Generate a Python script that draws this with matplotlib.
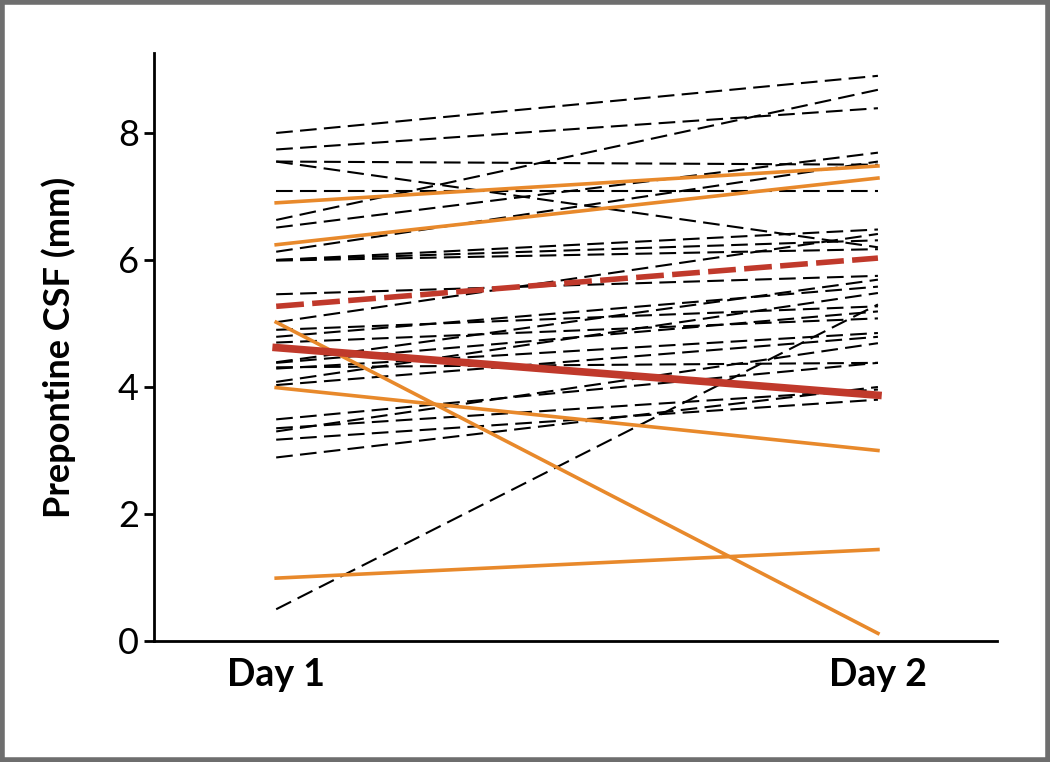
import numpy as np
import matplotlib.pyplot as plt
from matplotlib.patches import Rectangle

plt.rcParams['font.family'] = ['Lato', 'DejaVu Sans']

days = ["Day 1", "Day 2"]

# individual patients (black dashed), day 1 -> day 2
dash_day1 = [8.0, 7.74, 7.55, 7.55, 7.09, 6.63, 6.51, 6.13, 6.0, 6.0, 5.99,
             5.46, 5.02, 4.90, 4.79, 4.70, 4.39, 4.29, 4.38, 4.31, 4.08, 4.03,
             3.49, 3.35, 3.30, 3.17, 2.89, 0.50]
dash_day2 = [8.90, 8.39, 6.20, 7.50, 7.09, 8.68, 7.69, 7.55, 6.48, 6.31, 6.17,
             5.75, 6.41, 5.27, 5.58, 5.08, 5.69, 4.85, 5.19, 4.38, 5.48, 4.79,
             4.38, 3.96, 4.69, 3.80, 4.00, 5.30]

# highlighted patients (orange)
orange_day1 = [6.90, 6.24, 5.02, 3.99, 0.99]
orange_day2 = [7.48, 7.29, 0.12, 3.00, 1.44]

# group means
mean_solid = [4.62, 3.87]
mean_dashed = [5.27, 6.03]

orange = "#e8892b"
red = "#c0392b"

fig = plt.figure(figsize=(10.5, 7.62), dpi=100)
ax = fig.add_axes([0.1467, 0.1588, 0.8029, 0.7717])

x = np.arange(len(days))
for a, b in zip(dash_day1, dash_day2):
    ax.plot(x, [a, b], color="black", lw=1.5, dashes=(8, 3.5), zorder=2)
for a, b in zip(orange_day1, orange_day2):
    ax.plot(x, [a, b], color=orange, lw=2.6, zorder=3)
ax.plot(x, mean_dashed, color=red, lw=4, dashes=(5, 1.5), zorder=4)
ax.plot(x, mean_solid, color=red, lw=5.5, zorder=4)

ax.set_xlim(-0.203, 1.198)
ax.set_ylim(0, 9.26)
ax.set_yticks([0, 2, 4, 6, 8])
ax.set_xticks(x)
ax.set_xticklabels(days, fontsize=27, fontweight="bold")
ax.tick_params(axis="x", length=0, pad=12)
ax.tick_params(axis="y", length=7, width=2, labelsize=26, pad=4)
ax.set_ylabel("Prepontine CSF (mm)", fontsize=26, fontweight="bold", labelpad=30)

for s in ["top", "right"]:
    ax.spines[s].set_visible(False)
for s in ["left", "bottom"]:
    ax.spines[s].set_linewidth(2)

fig.patches.append(Rectangle((0.002, 0.003), 0.996, 0.994, transform=fig.transFigure,
                             fill=False, edgecolor="#6e6e6e", lw=4))

fig.savefig("out.png", dpi=100)
